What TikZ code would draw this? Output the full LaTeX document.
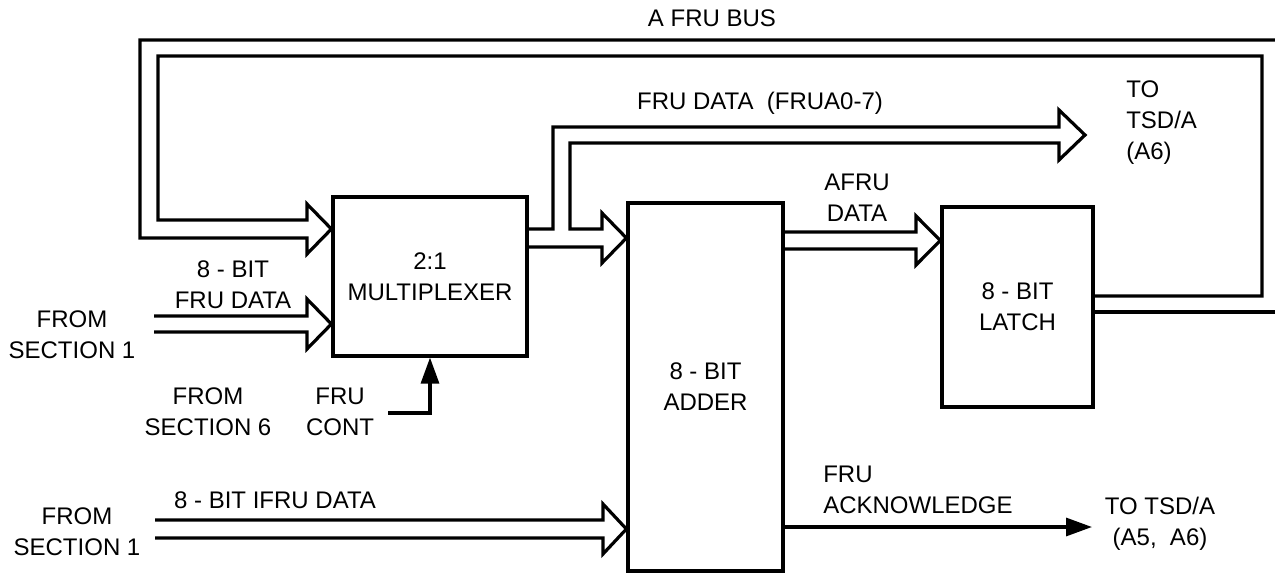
\documentclass[tikz,border=0pt]{standalone}
\usepackage{fontspec}
\setmainfont{Liberation Sans}
\usetikzlibrary{arrows.meta}

\begin{document}
\begin{tikzpicture}[x=0.5pt, y=-0.5pt, line width=1.6pt,
  every node/.style={font=\fontsize{12}{15.5}\selectfont, align=center},
  block/.style={draw, inner sep=0pt},
  bus/.style={line join=miter},
  sig/.style={-{Triangle[length=13pt, width=9pt]}}]
\useasboundingbox (0,0) rectangle (1275,573);

\node (mux) [block, minimum width=97pt, minimum height=79.5pt] at (430,276.5) {2:1\\MULTIPLEXER};
\node (add) [block, minimum width=77.5pt, minimum height=184pt] at (705.5,387) {8 - BIT\\ADDER};
\node (latch) [block, minimum width=75.5pt, minimum height=100pt] at (1017.5,307) {8 - BIT\\LATCH};

\coordinate (busout) at (1275,40);
\coordinate (busback) at (1275,312);
\coordinate (tsd) at (1085,135);
\coordinate (ack) at (1092,527);
\coordinate (cont) at (388,413);
\coordinate (frua) at (154,316);
\coordinate (frub) at (154,332);
\coordinate (ifrua) at (155,520);
\coordinate (ifrub) at (155,538);

\draw [bus] (busout) -- (140,40) -- (140,238) -- (307,238) -- (307,254) -- (mux.west |- 0,229)
  -- (307,204) -- (307,220) -- (158,220) -- (158,56) -- (1262,56) -- (1262,296) -- (latch.east |- 0,296);
\draw (latch.east |- 0,312) -- (busback);
\draw [bus] (mux.east |- 0,229) -- (553,229) -- (553,127) -- (1059,127) -- (1059,110) -- (tsd)
  -- (1059,160) -- (1059,143) -- (570,143) -- (570,229) -- (602,229) -- (602,213) -- (add.west |- 0,238)
  -- (602,263) -- (602,247) -- (mux.east |- 0,247);
\draw [bus] (add.east |- 0,232) -- (916,232) -- (916,216) -- (latch.west |- 0,240.5)
  -- (916,265) -- (916,249) -- (add.east |- 0,249);
\draw [bus] (frua) -- (307,316) -- (307,299) -- (mux.west |- 0,324) -- (307,349) -- (307,332) -- (frub);
\draw [bus] (ifrua) -- (603,520) -- (603,504) -- (add.west |- 0,529) -- (603,554) -- (603,538) -- (ifrub);
\draw [sig] (cont) -| (mux.south);
\draw [sig] (add.east |- ack) -- (ack);

\node (busl) at (712,18) {A FRU BUS};
\node (frudl) at (760,103) {FRU DATA\ \ (FRUA0-7)};
\node (tsdl) [anchor=west, align=left] at (1118,123) {TO\\TSD/A\\(A6)};
\node (afrul) at (857,198) {AFRU\\DATA};
\node (frul) at (233,285) {8 - BIT\\FRU DATA};
\node (sec1a) at (72,335) {FROM\\SECTION 1};
\node (sec6) at (208,412) {FROM\\SECTION 6};
\node (contl) at (340,412) {FRU\\CONT};
\node (sec1b) at (77,532) {FROM\\SECTION 1};
\node (ifrul) at (275,500) {8 - BIT IFRU DATA};
\node (ackl) [anchor=west, align=left] at (815,490) {FRU\\ACKNOWLEDGE};
\node (tsd2l) at (1160,524) {TO TSD/A\\(A5,\ \ A6)};
\end{tikzpicture}
\end{document}
